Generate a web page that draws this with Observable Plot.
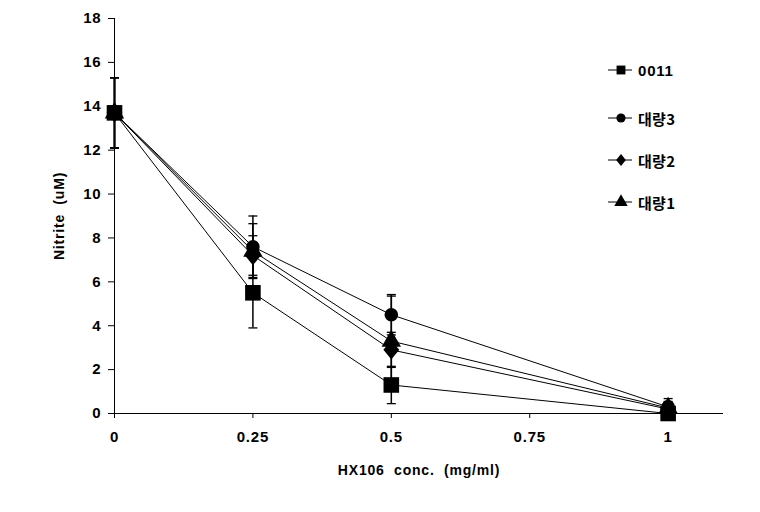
<!DOCTYPE html>
<html>
<head>
<meta charset="utf-8">
<script src="https://cdn.jsdelivr.net/npm/d3@7"></script>
<script src="https://cdn.jsdelivr.net/npm/@observablehq/plot@0.6"></script>
<style>
  body { margin: 0; background: #fff; }
  #wrap { position: relative; width: 760px; height: 512px; }
  #wrap svg text { letter-spacing: 0.8px; white-space: pre; }
  #legend { position: absolute; left: 606px; top: 58px; font-family: "Liberation Sans", "Noto Sans CJK KR", Arial, sans-serif; font-weight: bold; font-size: 15px; color: #000; letter-spacing: 0.8px; }
  .row { display: flex; align-items: center; height: 24px; }
  .row svg { margin-right: 4px; }
  .ko { font-family: "Noto Sans CJK KR", sans-serif; font-weight: bold; font-size: 15px; letter-spacing: 0.3px; }
</style>
</head>
<body>
<div id="wrap"><div id="legend"></div></div>
<script>
// ---- data ----
const conc = [0, 0.25, 0.5, 1];
const seriesNames = ["0011", "대량3", "대량2", "대량1"];
const symbols = ["square", "circle", "diamond", "triangle"];
const v0011 = [13.7, 5.5, 1.3, 0.0];
const v3    = [13.7, 7.6, 4.5, 0.3];
const v2    = [13.7, 7.2, 2.9, 0.2];
const v1    = [13.7, 7.4, 3.3, 0.25];
const e0011 = [1.6, 1.6, 0.85, 0.1];
const e3    = [1.6, 1.4, 0.92, 0.38];
const e2    = [1.6, 0.9, 0.8, 0.3];
const e1    = [1.6, 1.25, 2.05, 0.3];
const xTicks = [0, 0.25, 0.5, 0.75, 1];
const yTicks = [0, 2, 4, 6, 8, 10, 12, 14, 16, 18];
const xTitle = "HX106  conc.  (mg/ml)";
const yTitle = "Nitrite  (uM)";

const vals = [v0011, v3, v2, v1];
const errs = [e0011, e3, e2, e1];
const rows = [];
seriesNames.forEach((s, i) => conc.forEach((c, j) => rows.push({
  series: s, order: i, conc: c, value: vals[i][j], lo: vals[i][j] - errs[i][j], hi: vals[i][j] + errs[i][j]
})));
// draw back-to-front: 대량1, 대량2, 대량3, 0011
const drawOrder = [3, 2, 1, 0];
const sizes = {square: 8.8, circle: 6.8, diamond: 7.2, triangle: 7.2};

const cap = { draw(ctx, size) { const w = 4.5; ctx.moveTo(-w, 0); ctx.lineTo(w, 0); } };
const wideDiamond = { draw(ctx, size) {
  const r = Math.sqrt(size / Math.PI); const w = r * 1.1, h = r * 1.35;
  ctx.moveTo(0, -h); ctx.lineTo(w, 0); ctx.lineTo(0, h); ctx.lineTo(-w, 0); ctx.closePath();
} };
const symObj = {square: "square", circle: "circle", diamond: wideDiamond, triangle: "triangle"};

const marks = [];
// error bars
marks.push(Plot.ruleX(rows, {x: "conc", y1: "lo", y2: "hi", stroke: "#000", strokeWidth: 1.5}));
marks.push(Plot.dot(rows, {x: "conc", y: "hi", symbol: cap, stroke: "#000", strokeWidth: 1.3, r: 4}));
marks.push(Plot.dot(rows, {x: "conc", y: "lo", symbol: cap, stroke: "#000", strokeWidth: 1.3, r: 4}));
// axes lines
marks.push(Plot.ruleY([0], {stroke: "#000", strokeWidth: 1}));
marks.push(Plot.ruleX([0], {stroke: "#000", strokeWidth: 1}));
for (const i of drawOrder) {
  const d = rows.filter(r => r.order === i);
  marks.push(Plot.line(d, {x: "conc", y: "value", stroke: "#000", strokeWidth: 1}));
}
for (const i of drawOrder) {
  const d = rows.filter(r => r.order === i);
  marks.push(Plot.dot(d, {x: "conc", y: "value", symbol: () => symObj[symbols[i]], r: sizes[symbols[i]], fill: "#000", stroke: "none"}));
}
marks.push(Plot.axisX({ticks: xTicks, tickFormat: d => String(d), tickSize: 5, tickPadding: 13, label: null, fontSize: 15}));
marks.push(Plot.axisY({ticks: yTicks, tickSize: 6, tickPadding: 7, label: null, fontSize: 15}));
marks.push(Plot.text([xTitle], {frameAnchor: "bottom", dy: 57, lineAnchor: "middle", textAnchor: "middle", fontSize: 14, fontWeight: "bold"}));
marks.push(Plot.text([yTitle], {frameAnchor: "left", dx: -55, rotate: -90, lineAnchor: "middle", textAnchor: "middle", fontSize: 14, fontWeight: "bold"}));

const chart = Plot.plot({
  width: 760, height: 512,
  marginLeft: 114, marginTop: 18, marginBottom: 99, marginRight: 37,
  x: {domain: [0, 1.1]},
  y: {domain: [0, 18]},
  style: {fontFamily: "'Liberation Sans', Arial, sans-serif", fontWeight: "bold", fontSize: "14px", color: "#000", background: "#fff"},
  marks
});
document.getElementById("wrap").prepend(chart);

// legend (HTML)
const legend = document.getElementById("legend");
const lsize = {square: 5, circle: 4.6, diamond: 4.4, triangle: 5};
seriesNames.forEach((s, i) => {
  const row = document.createElement("div");
  row.className = "row";
  row.style.marginBottom = i === 0 ? "24px" : "18px";
  const svg = d3.create("svg").attr("width", 28).attr("height", 20);
  svg.append("line").attr("x1", 2).attr("x2", 26).attr("y1", 10).attr("y2", 10).attr("stroke", "#000");
  const symMap = {square: d3.symbolSquare, circle: d3.symbolCircle, diamond: wideDiamond, triangle: d3.symbolTriangle};
  const r = lsize[symbols[i]];
  svg.append("path").attr("transform", "translate(15,10)")
    .attr("d", d3.symbol(symMap[symbols[i]], r * r * Math.PI)());
  row.appendChild(svg.node());
  const t = document.createElement("span");
  t.textContent = s;
  if (i > 0) t.className = "ko";
  row.appendChild(t);
  legend.appendChild(row);
});
</script>
</body>
</html>
